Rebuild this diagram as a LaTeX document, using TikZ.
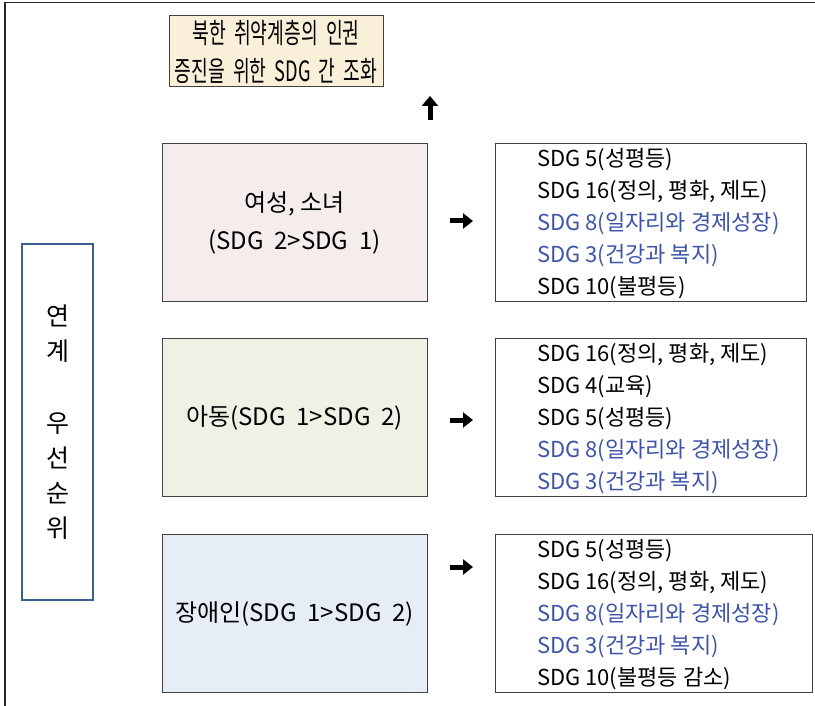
\documentclass[tikz,border=0pt]{standalone}
\usepackage{fontspec}
\setmainfont{Noto Sans CJK KR}
\usetikzlibrary{arrows.meta}
\definecolor{topfill}{RGB}{250,240,218}
\definecolor{pinkfill}{RGB}{245,236,236}
\definecolor{greenfill}{RGB}{237,242,229}
\definecolor{bluefill}{RGB}{230,237,246}
\definecolor{frameblue}{RGB}{60,95,145}
\definecolor{sdgblue}{RGB}{62,84,168}
\definecolor{edgegray}{RGB}{64,64,64}
\newcommand{\narrowtxt}[1]{\scalebox{0.65}[1]{#1}}
\begin{document}
\begin{tikzpicture}[x=1pt,y=-1pt,
  box/.style={draw=edgegray, line width=1pt, inner sep=0pt, anchor=center},
  grp/.style={box, minimum width=265pt, minimum height=158pt, align=center,
              font=\fontsize{24}{38}\selectfont},
  listbox/.style={box, minimum height=158pt},
  listtxt/.style={anchor=west, inner sep=0pt, align=left,
              font=\fontsize{22}{32}\selectfont},
  fatarrow/.style={line width=5pt, -{Triangle[length=10pt,width=16pt]}},
  sidearrow/.style={line width=5pt, -{Triangle[length=10pt,width=15pt]}}
]
\useasboundingbox (0,0) rectangle (815,706);
% outer frame (top and left edges only)
\draw[line width=1.6pt, black!85] (5,706) -- (5,2.5) -- (815,2.5);

% top goal box
\node[box, fill=topfill, minimum width=214pt, minimum height=71pt, align=center,
      font=\fontsize{28}{38}\selectfont] (goal) at (276,51.5)
  {\narrowtxt{북한 \ 취약계층의 \ 인권}\\ \narrowtxt{증진을 \ 위한 \ SDG \ 간 \ 조화}};

% up arrow
\coordinate (ua) at (430,120);
\coordinate (ub) at (430,96);
\draw[fatarrow] (ua) -- (ub);

% left priority box
\node[draw=frameblue, line width=2pt, minimum width=71pt, minimum height=356pt,
      align=center, inner sep=0pt, font=\fontsize{25}{35}\selectfont] (prio) at (57.5,422)
  {연\\계\\[37pt]우\\선\\순\\위};

% group boxes
\node[grp, fill=pinkfill] (g1) at (294.5,222.5) {여성,\ 소녀\\(SDG\ \ 2>SDG\ \ 1)};
\node[grp, fill=greenfill] (g2) at (294.5,417.5) {아동(SDG\ \ 1>SDG\ \ 2)};
\node[grp, fill=bluefill] (g3) at (294.5,613.5) {장애인(SDG\ \ 1>SDG\ \ 2)};

% list boxes
\node[listbox, minimum width=311pt] (l1) at (650.5,222.5) {};
\node[listbox, minimum width=311pt] (l2) at (650.5,417.5) {};
\node[listbox, minimum width=317pt] (l3) at (653.5,613.5) {};

\node[listtxt] (t1) at (537,224) {SDG 5(성평등)\\ SDG 16(정의, 평화, 제도)\\ \textcolor{sdgblue}{SDG 8(일자리와 경제성장)}\\ \textcolor{sdgblue}{SDG 3(건강과 복지)}\\ SDG 10(불평등)};
\node[listtxt] (t2) at (537,419) {SDG 16(정의, 평화, 제도)\\ SDG 4(교육)\\ SDG 5(성평등)\\ \textcolor{sdgblue}{SDG 8(일자리와 경제성장)}\\ \textcolor{sdgblue}{SDG 3(건강과 복지)}};
\node[listtxt] (t3) at (537,615) {SDG 5(성평등)\\ SDG 16(정의, 평화, 제도)\\ \textcolor{sdgblue}{SDG 8(일자리와 경제성장)}\\ \textcolor{sdgblue}{SDG 3(건강과 복지)}\\ SDG 10(불평등 감소)};

% right arrows
\coordinate (a1s) at (450,221); \coordinate (a1e) at (473,221);
\coordinate (a2s) at (450,420); \coordinate (a2e) at (473,420);
\coordinate (a3s) at (450,567); \coordinate (a3e) at (473,567);
\draw[sidearrow] (a1s) -- (a1e);
\draw[sidearrow] (a2s) -- (a2e);
\draw[sidearrow] (a3s) -- (a3e);
\end{tikzpicture}
\end{document}
